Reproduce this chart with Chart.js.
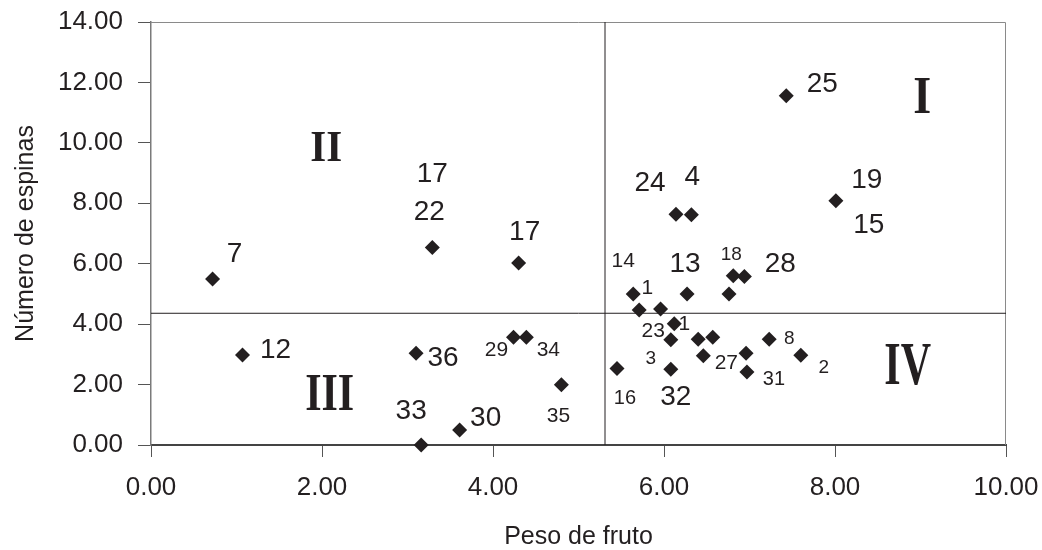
<!DOCTYPE html>
<html>
<head>
<meta charset="utf-8">
<title>Peso de fruto vs número de espinas</title>
<script src="https://cdn.jsdelivr.net/npm/chart.js@4.4.1/dist/chart.umd.min.js"></script>
<style>
  html, body { margin: 0; padding: 0; background: #fff; }
  #wrap { width: 1042px; height: 550px; }
</style>
</head>
<body>
<div id="wrap"><canvas id="grafico" width="1042" height="550"></canvas></div>
<script>
// datos (peso de fruto / número de espinas)
const pesoFruto = [0.72, 1.07, 3.29, 4.30, 3.10, 3.16, 3.61, 4.24, 4.39, 4.80, 5.45, 5.64, 5.71, 5.96, 6.12, 6.08,
  6.27, 6.40, 6.57, 6.46, 6.96, 6.97, 6.08, 6.76, 6.81, 6.94, 7.23, 7.60, 6.14, 6.32, 7.43, 8.01];
const numeroEspinas = [5.49, 2.98, 6.54, 6.02, 3.04, 0.00, 0.50, 3.57, 3.57, 1.99, 2.53, 5.00, 4.47, 4.50, 4.01, 3.48,
  5.00, 3.50, 3.57, 2.95, 3.04, 2.42, 2.51, 5.00, 5.60, 5.58, 3.50, 2.97, 7.64, 7.62, 11.56, 8.08];
// número de cada planta (algunos puntos tienen dos, otros ninguno)
const etiquetas = [['7'], ['12'], ['17', '22'], ['17'], ['36'], ['33'], ['30'], ['29'], ['34'], ['35'], ['16'],
  ['14', '1'], ['23'], [], ['1'], ['3'], ['13'], [], [], ['27'], [], ['31'], ['32'], [], ['18'], ['28'], ['8'], ['2'],
  ['24'], ['4'], ['25'], ['19', '15']];

// medias que dividen los cuadrantes
const mediaPeso = 5.31;
const mediaEspinas = 4.36;
const cuadrantes = ['I', 'II', 'III', 'IV'];

// ejes
const rangoX = [0, 10];
const rangoY = [0, 14];
const paso = 2;

// --- estilos / posiciones de los textos (no son datos) ---
const G = 28, M = 21, P = 19; // tamaños de letra
// [dx, dy, tamaño] respecto al punto, en píxeles
const posEtiquetas = [
  [[22, -27, G]], [[33, -7, G]], [[0, -75, G], [-3, -37, G]], [[6, -33, G]], [[27, 3, G]], [[-10, -36, G]],
  [[26, -14, G]], [[-17, 11, M]], [[22, 11, M]], [[-3, 30, M]], [[8, 28, 20]],
  [[-10, -34, M], [14, -7, M]], [[14, 20, M]], [], [[10, -1, M]], [[-20, 17, P]], [[-2, -32, G]], [], [],
  [[23, 6, M]], [], [[27, 6, 20]], [[5, 26, G]], [], [[-2, -23, P]], [[36, -14, G]], [[20, -2, P]], [[23, 11, P]],
  [[-26, -33, G]], [[1, -40, G]], [[36, -14, G]], [[31, -23, G], [33, 22, G]]
];
// [x, y en unidades del eje, tamaño, estiramiento vertical]
const posCuadrantes = [[9.02, 11.58, 46, 1.15], [2.05, 9.88, 41, 1.1], [2.09, 1.74, 42, 1.26], [8.85, 2.68, 42, 1.45]];

const tinta = '#231f20';
const sans = '"Liberation Sans", Arial, sans-serif';

const marco = {
  id: 'marco',
  beforeDatasetsDraw(chart) {
    const a = chart.chartArea, ctx = chart.ctx;
    ctx.save();
    ctx.strokeStyle = '#8a8a8a';
    ctx.lineWidth = 1;
    ctx.beginPath();
    ctx.moveTo(a.left, a.top + 0.5);
    ctx.lineTo(a.right - 0.5, a.top + 0.5);
    ctx.lineTo(a.right - 0.5, a.bottom);
    ctx.stroke();
    ctx.restore();
  }
};

const rotulos = {
  id: 'rotulos',
  afterDatasetsDraw(chart) {
    const ctx = chart.ctx;
    const puntos = chart.getDatasetMeta(0).data;
    ctx.save();
    ctx.fillStyle = tinta;
    ctx.textAlign = 'center';
    ctx.textBaseline = 'alphabetic';
    etiquetas.forEach((lista, i) => {
      lista.forEach((txt, j) => {
        const [dx, dy, tam] = posEtiquetas[i][j];
        ctx.font = tam + 'px ' + sans;
        ctx.fillText(txt, puntos[i].x + dx, puntos[i].y + dy + tam * 0.358);
      });
    });
    const sx = chart.scales.x, sy = chart.scales.y;
    cuadrantes.forEach((txt, i) => {
      const [vx, vy, tam, estira] = posCuadrantes[i];
      ctx.save();
      ctx.translate(sx.getPixelForValue(vx), sy.getPixelForValue(vy) + tam * 0.331 * estira);
      ctx.scale(1, estira);
      ctx.font = 'bold ' + tam + 'px "Liberation Serif", "Times New Roman", serif';
      ctx.fillText(txt, 0, 0);
      ctx.restore();
    });
    ctx.restore();
  }
};

const puntos = pesoFruto.map((x, i) => ({ x: x, y: numeroEspinas[i] }));

new Chart(document.getElementById('grafico'), {
  type: 'scatter',
  data: {
    datasets: [
      {
        data: puntos,
        pointStyle: 'rectRot',
        pointRadius: 7.5,
        backgroundColor: tinta,
        borderWidth: 0,
        clip: false
      },
      {
        data: [{ x: mediaPeso, y: rangoY[0] }, { x: mediaPeso, y: rangoY[1] }],
        showLine: true, borderColor: tinta, borderWidth: 1, pointRadius: 0
      },
      {
        data: [{ x: rangoX[0], y: mediaEspinas }, { x: rangoX[1], y: mediaEspinas }],
        showLine: true, borderColor: tinta, borderWidth: 1, pointRadius: 0
      }
    ]
  },
  options: {
    responsive: false,
    animation: false,
    layout: { padding: { top: 22, right: 36, left: 0, bottom: 0 } },
    plugins: { legend: { display: false }, tooltip: { enabled: false } },
    scales: {
      x: {
        min: rangoX[0], max: rangoX[1],
        afterFit(s) { s.height = 105; s.paddingLeft = 0; s.paddingRight = 0; },
        grid: { drawOnChartArea: false, tickLength: 12, color: '#555' },
        border: { color: '#444', width: 2 },
        ticks: { stepSize: paso, padding: 15, color: tinta, font: { family: sans, size: 26 },
          callback: v => v.toFixed(2) },
        title: { display: true, text: 'Peso de fruto', color: tinta, font: { family: sans, size: 25 },
          padding: { top: 0, bottom: -2 } }
      },
      y: {
        min: rangoY[0], max: rangoY[1],
        afterFit(s) { s.width = 151; s.paddingTop = 0; s.paddingBottom = 0; },
        grid: { drawOnChartArea: false, tickLength: 13, color: '#555' },
        border: { color: '#7a7a7a', width: 1.5 },
        ticks: { stepSize: paso, padding: 15, color: tinta, font: { family: sans, size: 26 },
          callback: v => v.toFixed(2) },
        title: { display: true, text: 'Número de espinas', color: tinta, font: { family: sans, size: 25 },
          padding: { top: 11, bottom: 0 } }
      }
    }
  },
  plugins: [marco, rotulos]
});
</script>
</body>
</html>
